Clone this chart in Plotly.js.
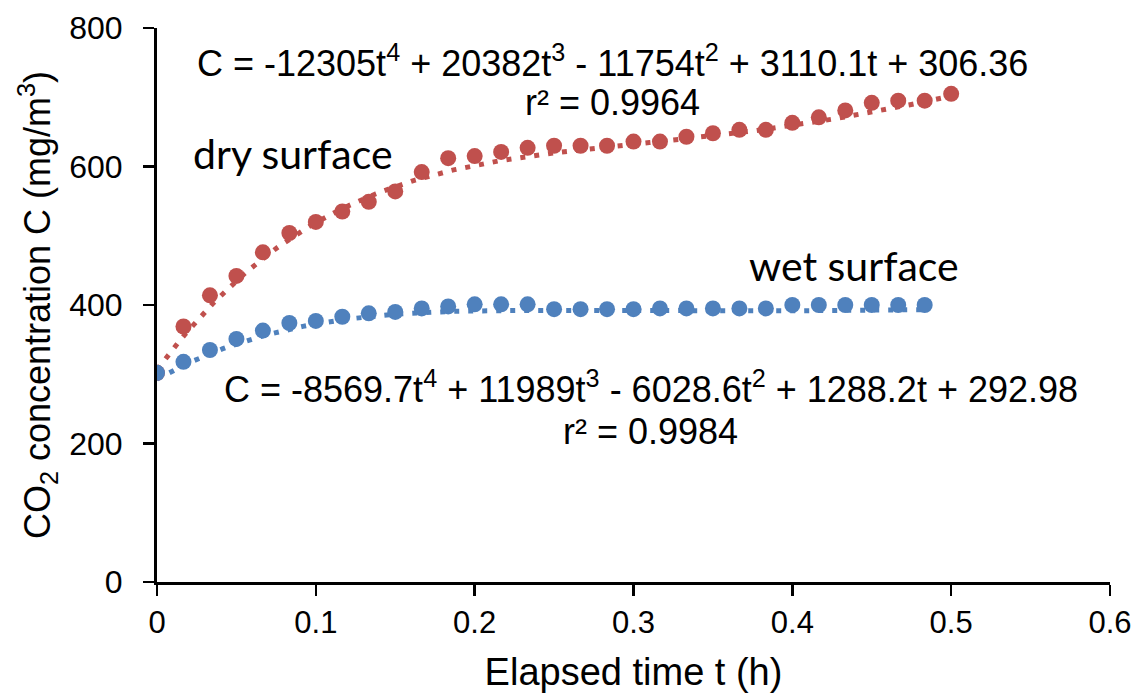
<!DOCTYPE html>
<html>
<head>
<meta charset="utf-8">
<script src="https://cdn.plot.ly/plotly-3.0.1.min.js"></script>
<style>
html,body{margin:0;padding:0;background:#fff;}
#chart{width:1138px;height:695px;}
</style>
</head>
<body>
<div id="chart"></div>
<script>
// Elapsed time (h), one reading per minute
const timeDry = [0,1,2,3,4,5,6,7,8,9,10,11,12,13,14,15,16,17,18,19,20,21,22,23,24,25,26,27,28,29,30].map(m => m / 60);
const timeWet = [0,1,2,3,4,5,6,7,8,9,10,11,12,13,14,15,16,17,18,19,20,21,22,23,24,25,26,27,28,29].map(m => m / 60);
// CO2 concentration (mg/m3)
const dryValues = [302,369,414,442,476,504,520,535,549,564,592,612,615,621,627,630,630,630,636,636,643,648,653,653,663,671,681,692,695,695,705];
const wetValues = [302,318,335,351,363,374,377,383,388,390,395,398,401,401,401,394,394,394,394,395,395,395,395,395,400,400,400,400,400,400];
// Polynomial trendline coefficients as printed (t^4, t^3, t^2, t, const)
const dryCoef = [-12305, 20382, -11754, 3110.1, 306.36];
const wetCoef = [-8569.7, 11989, -6028.6, 1288.2, 292.98];
const dryR2 = "0.9964";
const wetR2 = "0.9984";
const xTicks = [0,0.1,0.2,0.3,0.4,0.5,0.6];
const xTickText = ["0","0.1","0.2","0.3","0.4","0.5","0.6"];
const yTicks = [0,200,400,600,800];

const RED = "#C0504D", BLUE = "#4F81BD";

function poly(c, t){ return c[0]*t**4 + c[1]*t**3 + c[2]*t**2 + c[3]*t + c[4]; }
function trend(times, c){
  const xs = [], ys = [];
  const t0 = times[0], t1 = times[times.length-1];
  const n = 200;
  for (let i = 0; i <= n; i++){ const t = t0 + (t1 - t0) * i / n; xs.push(t); ys.push(poly(c, t)); }
  return {x: xs, y: ys};
}
function eqText(c){
  const f = v => (v < 0 ? " - " : " + ") + Math.abs(v);
  return "C = " + c[0] + "t<sup>4</sup>" + f(c[1]) + "t<sup>3</sup>" + f(c[2]) + "t<sup>2</sup>" + f(c[3]) + "t" + f(c[4]);
}

const dT = trend(timeDry, dryCoef), wT = trend(timeWet, wetCoef);
const traces = [
  {x: dT.x, y: dT.y, mode: "lines", line: {color: RED, width: 5, dash: "5px,9px"}, hoverinfo: "skip", showlegend: false},
  {x: wT.x, y: wT.y, mode: "lines", line: {color: BLUE, width: 5, dash: "5px,9px"}, hoverinfo: "skip", showlegend: false},
  {x: timeDry, y: dryValues, mode: "markers", name: "dry surface", marker: {color: RED, size: 16}, showlegend: false},
  {x: timeWet, y: wetValues, mode: "markers", name: "wet surface", marker: {color: BLUE, size: 16}, showlegend: false}
];

const SANS = "Liberation Sans, Arial, sans-serif";
const eqFont = {family: SANS, size: 36, color: "#000"};
const lblFont = {family: "Lato, Carlito, Calibri, sans-serif", size: 41, color: "#000"};

const layout = {
  width: 1138, height: 695,
  margin: {l: 157, r: 28, t: 28, b: 113},
  paper_bgcolor: "#fff", plot_bgcolor: "#fff",
  font: {family: SANS, color: "#000"},
  xaxis: {
    range: [0, 0.6], tickvals: xTicks, ticktext: xTickText,
    showgrid: false, zeroline: false, showline: true, linecolor: "#000", linewidth: 3,
    ticks: "outside", ticklen: 11, tickwidth: 2.5, tickcolor: "#000",
    tickfont: {size: 31, family: SANS},
    title: {text: "Elapsed time t (h)", font: {size: 38, family: SANS}, standoff: 20}
  },
  yaxis: {
    range: [0, 800], tickvals: yTicks,
    showgrid: false, zeroline: false, showline: true, linecolor: "#000", linewidth: 3,
    ticks: "outside", ticklen: 11, tickwidth: 2.5, tickcolor: "#000",
    ticklabelstandoff: 14,
    tickfont: {size: 32, family: SANS},
    title: {text: "CO<sub>2</sub> concentration C (mg/m<sup>3</sup>)", font: {size: 36, family: SANS}, standoff: 8}
  },
  annotations: [
    {xref: "paper", yref: "paper", x: 0.478, y: 0.941, text: eqText(dryCoef), showarrow: false, font: eqFont, xanchor: "center", yanchor: "middle"},
    {xref: "paper", yref: "paper", x: 0.478, y: 0.866, text: "r² = " + dryR2, showarrow: false, font: eqFont, xanchor: "center", yanchor: "middle"},
    {xref: "paper", yref: "paper", x: 0.1427, y: 0.774, text: "dry surface", showarrow: false, font: lblFont, xanchor: "center", yanchor: "middle"},
    {xref: "paper", yref: "paper", x: 0.731, y: 0.572, text: "wet surface", showarrow: false, font: lblFont, xanchor: "center", yanchor: "middle"},
    {xref: "paper", yref: "paper", x: 0.518, y: 0.352, text: eqText(wetCoef), showarrow: false, font: eqFont, xanchor: "center", yanchor: "middle"},
    {xref: "paper", yref: "paper", x: 0.518, y: 0.272, text: "r² = " + wetR2, showarrow: false, font: eqFont, xanchor: "center", yanchor: "middle"}
  ]
};

Plotly.newPlot("chart", traces, layout, {staticPlot: true, displayModeBar: false});
</script>
</body>
</html>
